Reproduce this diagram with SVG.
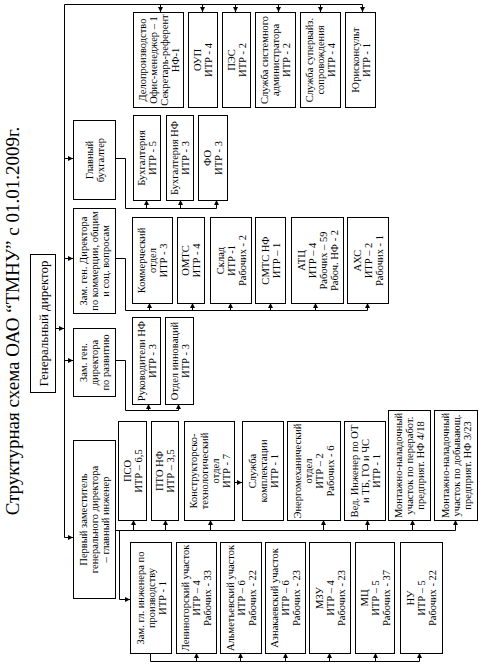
<svg xmlns="http://www.w3.org/2000/svg" width="482" height="667" viewBox="0 0 482 667">
<defs>
<marker id="ah" markerWidth="5" markerHeight="5" refX="5" refY="2.5" orient="auto" markerUnits="userSpaceOnUse">
<path d="M0,0 L5,2.5 L0,5 z" fill="#000"/>
</marker>
<style>
.b{fill:#fff;stroke:#000;stroke-width:1}
.t{font-family:"Liberation Serif","Times New Roman",serif;font-size:10.5px;text-anchor:middle;fill:#000}
.c{fill:none;stroke:#000;stroke-width:1}
.a{fill:none;stroke:#000;stroke-width:1;marker-end:url(#ah)}
</style>
</defs>
<rect width="482" height="667" fill="#fff"/>
<text class="t" style="font-size:19px" transform="translate(12,321) rotate(-90)" y="6.5">Структурная схема ОАО “ТМНУ” с 01.01.2009г.</text>

<g id="connectors">
<path class="a" d="M362.5,4.5 H64.5 V537.5 H73"/>
<path class="a" d="M55,328.5 H64"/>
<path class="a" d="M64.5,158.5 H73"/>
<path class="a" d="M64.5,258.5 H73"/>
<path class="a" d="M64.5,360.5 H73"/>
<path class="a" d="M160.5,4.5 V12"/>
<path class="a" d="M202.5,4.5 V12"/>
<path class="a" d="M235.5,4.5 V12"/>
<path class="a" d="M278.5,4.5 V12"/>
<path class="a" d="M320.5,4.5 V12"/>
<path class="a" d="M362.5,4.5 V12"/>
<path class="c" d="M115,158.5 H125.5 V208.5 H216.5"/>
<path class="a" d="M146.5,208.5 V200"/>
<path class="a" d="M180.5,208.5 V200"/>
<path class="a" d="M216.5,208.5 V200"/>
<path class="c" d="M115,258.5 H125.5 V310.5 H367.5"/>
<path class="a" d="M149.5,310.5 V303"/>
<path class="a" d="M192.5,310.5 V303"/>
<path class="a" d="M230.5,310.5 V303"/>
<path class="a" d="M270.5,310.5 V303"/>
<path class="a" d="M315.5,310.5 V303"/>
<path class="a" d="M367.5,310.5 V303"/>
<path class="c" d="M115,360.5 H125.5 V410.5 H178.5"/>
<path class="a" d="M148.5,410.5 V404"/>
<path class="a" d="M178.5,410.5 V404"/>
<path class="c" d="M115,530.5 H455.5"/>
<path class="a" d="M133.5,530.5 V520"/>
<path class="a" d="M165.5,530.5 V520"/>
<path class="a" d="M210.5,530.5 V520"/>
<path class="a" d="M323.5,530.5 V520"/>
<path class="a" d="M367.5,530.5 V520"/>
<path class="a" d="M412.5,530.5 V520"/>
<path class="a" d="M455.5,530.5 V520"/>
<path class="a" d="M234,482.5 H242"/>
<path class="a" d="M119.5,530.5 V599.5 H130"/>
<path class="c" d="M150.5,653 V661.5 H419.5"/>
<path class="a" d="M196.5,661.5 V653"/>
<path class="a" d="M240.5,661.5 V653"/>
<path class="a" d="M285.5,661.5 V653"/>
<path class="a" d="M329.5,661.5 V653"/>
<path class="a" d="M375.5,661.5 V653"/>
<path class="a" d="M419.5,661.5 V653"/>
</g>

<g id="gen-director"><rect class="b" x="30.5" y="254.5" width="25" height="138"/>
<text class="t" style="font-size:13px" transform="translate(43,323.5) rotate(-90)" y="4.5">Генеральный директор</text></g>

<g id="gl-buh"><rect class="b" x="73.5" y="120.5" width="42" height="79"/>
<text class="t" transform="translate(94.5,160) rotate(-90)"><tspan x="0" y="-2">Главный</tspan><tspan x="0" y="9">бухгалтер</tspan></text></g>
<g id="zam-kom"><rect class="b" x="73.5" y="208.5" width="42" height="105"/>
<text class="t" transform="translate(94.5,261) rotate(-90)"><tspan x="0" y="-7.5">Зам. ген. Директора</tspan><tspan x="0" y="3.5">по коммерции, общим</tspan><tspan x="0" y="14.5">и соц. вопросам</tspan></text></g>
<g id="zam-razv"><rect class="b" x="73.5" y="328.5" width="42" height="68"/>
<text class="t" transform="translate(94.5,362.5) rotate(-90)"><tspan x="0" y="-7.5">Зам. ген.</tspan><tspan x="0" y="3.5">директора</tspan><tspan x="0" y="14.5">по развитию</tspan></text></g>
<g id="perv-zam"><rect class="b" x="73.5" y="440.5" width="42" height="158"/>
<text class="t" transform="translate(94.5,519.5) rotate(-90)"><tspan x="0" y="-7.5">Первый заместитель</tspan><tspan x="0" y="3.5">генерального директора</tspan><tspan x="0" y="14.5">– главный инженер</tspan></text></g>

<g id="deloproizv"><rect class="b" x="133.5" y="12.5" width="50" height="95"/>
<text class="t" transform="translate(158.5,60) rotate(-90)"><tspan x="0" y="-13">Делопроизводство</tspan><tspan x="0" y="-2">Офис-менеджер – 1</tspan><tspan x="0" y="9">Секретарь-референт</tspan><tspan x="0" y="20">НФ-1</tspan></text></g>
<g id="oup"><rect class="b" x="188.5" y="12.5" width="29" height="95"/>
<text class="t" transform="translate(203,60) rotate(-90)"><tspan x="0" y="-2">ОУП</tspan><tspan x="0" y="9">ИТР - 4</tspan></text></g>
<g id="pes"><rect class="b" x="222.5" y="12.5" width="28" height="95"/>
<text class="t" transform="translate(236.5,60) rotate(-90)"><tspan x="0" y="-2">ПЭС</tspan><tspan x="0" y="9">ИТР - 2</tspan></text></g>
<g id="sl-sis"><rect class="b" x="255.5" y="12.5" width="40" height="95"/>
<text class="t" transform="translate(275.5,60) rotate(-90)"><tspan x="0" y="-7.5">Служба системного</tspan><tspan x="0" y="3.5">администратора</tspan><tspan x="0" y="14.5">ИТР - 2</tspan></text></g>
<g id="sl-superv"><rect class="b" x="300.5" y="12.5" width="40" height="95"/>
<text class="t" transform="translate(320.5,60) rotate(-90)"><tspan x="0" y="-7.5">Служба супервайз.</tspan><tspan x="0" y="3.5">сопровождения</tspan><tspan x="0" y="14.5">ИТР - 4</tspan></text></g>
<g id="yurist"><rect class="b" x="345.5" y="12.5" width="30" height="95"/>
<text class="t" transform="translate(360.5,60) rotate(-90)"><tspan x="0" y="-2">Юрисконсульт</tspan><tspan x="0" y="9">ИТР - 1</tspan></text></g>

<g id="buh"><rect class="b" x="133.5" y="115.5" width="27" height="85"/>
<text class="t" transform="translate(147,158) rotate(-90)"><tspan x="0" y="-2">Бухгалтерия</tspan><tspan x="0" y="9">ИТР - 5</tspan></text></g>
<g id="buh-nf"><rect class="b" x="166.5" y="115.5" width="27" height="85"/>
<text class="t" transform="translate(180,158) rotate(-90)"><tspan x="0" y="-2">Бухгалтерия НФ</tspan><tspan x="0" y="9">ИТР - 3</tspan></text></g>
<g id="fo"><rect class="b" x="198.5" y="115.5" width="29" height="85"/>
<text class="t" transform="translate(213,158) rotate(-90)"><tspan x="0" y="-2">ФО</tspan><tspan x="0" y="9">ИТР - 3</tspan></text></g>

<g id="kommerch"><rect class="b" x="132.5" y="217.5" width="40" height="86"/>
<text class="t" transform="translate(152.5,260.5) rotate(-90)"><tspan x="0" y="-7.5">Коммерческий</tspan><tspan x="0" y="3.5">отдел</tspan><tspan x="0" y="14.5">ИТР - 3</tspan></text></g>
<g id="omts"><rect class="b" x="177.5" y="217.5" width="27" height="86"/>
<text class="t" transform="translate(191,260.5) rotate(-90)"><tspan x="0" y="-2">ОМТС</tspan><tspan x="0" y="9">ИТР - 4</tspan></text></g>
<g id="sklad"><rect class="b" x="210.5" y="217.5" width="41" height="86"/>
<text class="t" transform="translate(231,260.5) rotate(-90)"><tspan x="0" y="-7.5">Склад</tspan><tspan x="0" y="3.5">ИТР -1</tspan><tspan x="0" y="14.5">Рабочих - 2</tspan></text></g>
<g id="smts-nf"><rect class="b" x="255.5" y="217.5" width="30" height="86"/>
<text class="t" transform="translate(270.5,260.5) rotate(-90)"><tspan x="0" y="-2">СМТС НФ</tspan><tspan x="0" y="9">ИТР – 1</tspan></text></g>
<g id="atc"><rect class="b" x="291.5" y="217.5" width="52" height="86"/>
<text class="t" transform="translate(317.5,260.5) rotate(-90)"><tspan x="0" y="-13">АТЦ</tspan><tspan x="0" y="-2">ИТР – 4</tspan><tspan x="0" y="9">Рабочих – 59</tspan><tspan x="0" y="20">Рабоч. НФ - 2</tspan></text></g>
<g id="ahs"><rect class="b" x="347.5" y="217.5" width="41" height="86"/>
<text class="t" transform="translate(368,260.5) rotate(-90)"><tspan x="0" y="-7.5">АХС</tspan><tspan x="0" y="3.5">ИТР – 2</tspan><tspan x="0" y="14.5">Рабочих - 1</tspan></text></g>

<g id="ruk-nf"><rect class="b" x="132.5" y="317.5" width="28" height="87"/>
<text class="t" transform="translate(146.5,361) rotate(-90)"><tspan x="0" y="-2">Руководители НФ</tspan><tspan x="0" y="9">ИТР - 3</tspan></text></g>
<g id="otd-innov"><rect class="b" x="165.5" y="317.5" width="28" height="87"/>
<text class="t" transform="translate(179.5,361) rotate(-90)"><tspan x="0" y="-2">Отдел инноваций</tspan><tspan x="0" y="9">ИТР - 3</tspan></text></g>

<g id="pso"><rect class="b" x="118.5" y="421.5" width="28" height="99"/>
<text class="t" transform="translate(132.5,471) rotate(-90)"><tspan x="0" y="-2">ПСО</tspan><tspan x="0" y="9">ИТР – 6,5</tspan></text></g>
<g id="pto-nf"><rect class="b" x="151.5" y="421.5" width="27" height="99"/>
<text class="t" transform="translate(165,471) rotate(-90)"><tspan x="0" y="-2">ПТО НФ</tspan><tspan x="0" y="9">ИТР – 3,5</tspan></text></g>
<g id="kto"><rect class="b" x="184.5" y="421.5" width="50" height="99"/>
<text class="t" transform="translate(209.5,471) rotate(-90)"><tspan x="0" y="-13">Конструкторско-</tspan><tspan x="0" y="-2">технологический</tspan><tspan x="0" y="9">отдел</tspan><tspan x="0" y="20">ИТР - 7</tspan></text></g>
<g id="sl-kompl"><rect class="b" x="242.5" y="421.5" width="41" height="99"/>
<text class="t" transform="translate(263,471) rotate(-90)"><tspan x="0" y="-7.5">Служба</tspan><tspan x="0" y="3.5">комплектации</tspan><tspan x="0" y="14.5">ИТР - 1</tspan></text></g>
<g id="energomeh"><rect class="b" x="287.5" y="421.5" width="53" height="99"/>
<text class="t" transform="translate(314,471) rotate(-90)"><tspan x="0" y="-13">Энергомеханический</tspan><tspan x="0" y="-2">отдел</tspan><tspan x="0" y="9">ИТР – 2</tspan><tspan x="0" y="20">Рабочих - 6</tspan></text></g>
<g id="ved-ing"><rect class="b" x="344.5" y="421.5" width="41" height="99"/>
<text class="t" transform="translate(365,471) rotate(-90)"><tspan x="0" y="-7.5">Вед. Инженер по ОТ</tspan><tspan x="0" y="3.5">и ТБ, ГО и ЧС</tspan><tspan x="0" y="14.5">ИТР - 1</tspan></text></g>
<g id="mnu-1"><rect class="b" x="388.5" y="410.5" width="42" height="110"/>
<text class="t" transform="translate(409.5,465.5) rotate(-90)"><tspan x="0" y="-7.5">Монтажно-наладочный</tspan><tspan x="0" y="3.5">участок по переработ.</tspan><tspan x="0" y="14.5">предприят. НФ 4/18</tspan></text></g>
<g id="mnu-2"><rect class="b" x="434.5" y="410.5" width="43" height="110"/>
<text class="t" transform="translate(456,465.5) rotate(-90)"><tspan x="0" y="-7.5">Монтажно-наладочный</tspan><tspan x="0" y="3.5">участок по добывающ.</tspan><tspan x="0" y="14.5">предприят. НФ 3/23</tspan></text></g>

<g id="zam-gl-ing"><rect class="b" x="130.5" y="542.5" width="41" height="111"/>
<text class="t" transform="translate(151,598) rotate(-90)"><tspan x="0" y="-7.5">Зам. гл. инженера по</tspan><tspan x="0" y="3.5">производству</tspan><tspan x="0" y="14.5">ИТР - 1</tspan></text></g>
<g id="leninogorsk"><rect class="b" x="176.5" y="542.5" width="40" height="111"/>
<text class="t" transform="translate(196.5,598) rotate(-90)"><tspan x="0" y="-7.5">Лениногорский участок</tspan><tspan x="0" y="3.5">ИТР – 4</tspan><tspan x="0" y="14.5">Рабочих - 33</tspan></text></g>
<g id="almetyevsk"><rect class="b" x="220.5" y="542.5" width="41" height="111"/>
<text class="t" transform="translate(241,598) rotate(-90)"><tspan x="0" y="-7.5">Альметьевский участок</tspan><tspan x="0" y="3.5">ИТР – 6</tspan><tspan x="0" y="14.5">Рабочих - 22</tspan></text></g>
<g id="aznakaevsk"><rect class="b" x="265.5" y="542.5" width="40" height="111"/>
<text class="t" transform="translate(285.5,598) rotate(-90)"><tspan x="0" y="-7.5">Азнакаевский участок</tspan><tspan x="0" y="3.5">ИТР – 6</tspan><tspan x="0" y="14.5">Рабочих - 23</tspan></text></g>
<g id="mzu"><rect class="b" x="309.5" y="542.5" width="41" height="111"/>
<text class="t" transform="translate(330,598) rotate(-90)"><tspan x="0" y="-7.5">МЗУ</tspan><tspan x="0" y="3.5">ИТР – 4</tspan><tspan x="0" y="14.5">Рабочих - 23</tspan></text></g>
<g id="mc"><rect class="b" x="355.5" y="542.5" width="39" height="111"/>
<text class="t" transform="translate(375,598) rotate(-90)"><tspan x="0" y="-7.5">МЦ</tspan><tspan x="0" y="3.5">ИТР – 5</tspan><tspan x="0" y="14.5">Рабочих - 37</tspan></text></g>
<g id="nu"><rect class="b" x="400.5" y="542.5" width="42" height="111"/>
<text class="t" transform="translate(421.5,598) rotate(-90)"><tspan x="0" y="-7.5">НУ</tspan><tspan x="0" y="3.5">ИТР – 5</tspan><tspan x="0" y="14.5">Рабочих - 22</tspan></text></g>
</svg>
